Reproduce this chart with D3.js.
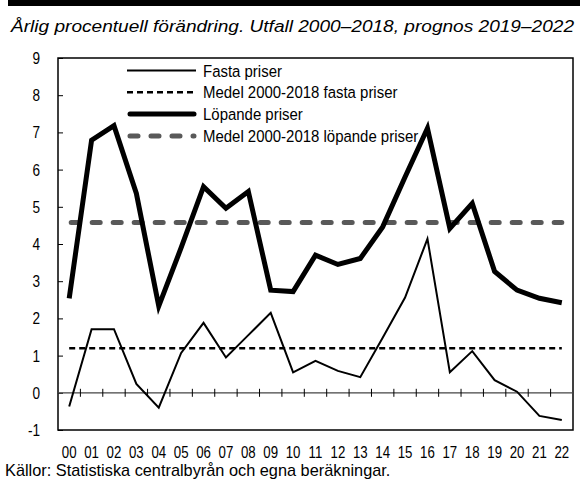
<!DOCTYPE html>
<html>
<head>
<meta charset="utf-8">
<script src="https://cdn.jsdelivr.net/npm/d3@7"></script>
<style>
  body { margin: 0; background: #fff; }
  svg { display: block; }
  text { font-family: "Liberation Sans", Arial, sans-serif; font-size: 17px; fill: #000; }
  .subtitle { font-size: 16px; font-style: italic; }
</style>
</head>
<body>
<script>
const years = ["00", "01", "02", "03", "04", "05", "06", "07", "08", "09", "10", "11",
  "12", "13", "14", "15", "16", "17", "18", "19", "20", "21", "22"];

const fastaPriser = [-0.37, 1.71, 1.71, 0.24, -0.40, 1.07, 1.88, 0.95, 1.55, 2.15, 0.55, 0.86,
  0.59, 0.42, 1.48, 2.56, 4.14, 0.55, 1.12, 0.34, 0.03, -0.62, -0.73];

const lopandePriser = [2.54, 6.79, 7.18, 5.36, 2.33, 3.90, 5.54, 4.96, 5.41, 2.76, 2.72, 3.70,
  3.45, 3.61, 4.46, 5.80, 7.11, 4.42, 5.09, 3.26, 2.76, 2.54, 2.42];

const medelFasta = 1.20;
const medelLopande = 4.58;

const yTicks = [-1, 0, 1, 2, 3, 4, 5, 6, 7, 8, 9];

const legendLabels = ["Fasta priser", "Medel 2000-2018 fasta priser", "Löpande priser", "Medel 2000-2018 löpande priser"];

const width = 582, height = 488;
const margin = { top: 58, right: 9, bottom: 58, left: 58 };

// the reference uses a condensed face, so squeeze Liberation Sans horizontally
const narrow = (sel, xf, yf, k) => sel
  .attr("transform", (d, i) => `translate(${xf(d, i)},${yf(d, i)}) scale(${k},1)`);

const svg = d3.select("body").append("svg")
  .attr("width", width)
  .attr("height", height);

// cut-off title bar at the top
svg.append("rect")
  .attr("x", 8).attr("y", 0)
  .attr("width", 572).attr("height", 6)
  .attr("fill", "#000");

svg.append("text")
  .attr("class", "subtitle")
  .attr("x", 11)
  .attr("y", 32)
  .attr("textLength", 563)
  .attr("lengthAdjust", "spacingAndGlyphs")
  .text("Årlig procentuell förändring. Utfall 2000–2018, prognos 2019–2022");

const x = d3.scaleBand()
  .domain(years)
  .range([margin.left, width - margin.right]);

const y = d3.scaleLinear()
  .domain([-1, 9])
  .range([height - margin.bottom, margin.top]);

const xc = (d, i) => x(years[i]) + x.bandwidth() / 2;

// frame
svg.append("rect")
  .attr("x", margin.left).attr("y", margin.top)
  .attr("width", width - margin.right - margin.left)
  .attr("height", height - margin.bottom - margin.top)
  .attr("fill", "none")
  .attr("stroke", "#000")
  .attr("stroke-width", 1.5);

// y axis ticks (inside)
const yAxisG = svg.append("g")
  .attr("transform", `translate(${margin.left},0)`)
  .call(d3.axisLeft(y).tickValues(yTicks).tickSize(-5).tickFormat(""));
yAxisG.select(".domain").remove();
yAxisG.selectAll("line").attr("stroke", "#000");

svg.selectAll(".yLabel")
  .data(yTicks)
  .enter()
  .append("text")
  .attr("class", "yLabel")
  .attr("text-anchor", "end")
  .call(narrow, () => 40, d => y(d) + 6, 0.8)
  .text(d => d);

// zero line with category separators
svg.append("line")
  .attr("x1", margin.left).attr("x2", width - margin.right)
  .attr("y1", y(0)).attr("y2", y(0))
  .attr("stroke", "#444")
  .attr("stroke-width", 1.2);

svg.selectAll(".sep")
  .data(years.slice(1))
  .enter()
  .append("line")
  .attr("class", "sep")
  .attr("x1", d => x(d)).attr("x2", d => x(d))
  .attr("y1", y(0) - 4).attr("y2", y(0) + 4)
  .attr("stroke", "#000")
  .attr("stroke-width", 1);

// x labels
svg.selectAll(".xLabel")
  .data(years)
  .enter()
  .append("text")
  .attr("class", "xLabel")
  .attr("text-anchor", "middle")
  .call(narrow, d => x(d) + x.bandwidth() / 2, () => 458, 0.78)
  .text(d => d);

const line = d3.line()
  .x(xc)
  .y(d => y(d));

const x0 = xc(null, 0), x1 = xc(null, years.length - 1);

// mean lines
svg.append("line")
  .attr("x1", x0).attr("x2", x1)
  .attr("y1", y(medelFasta)).attr("y2", y(medelFasta))
  .attr("stroke", "#000")
  .attr("stroke-width", 2.5)
  .attr("stroke-dasharray", "6,4");

svg.append("line")
  .attr("x1", x0 + 2).attr("x2", x1)
  .attr("y1", y(medelLopande)).attr("y2", y(medelLopande))
  .attr("stroke", "#595959")
  .attr("stroke-width", 5)
  .attr("stroke-linecap", "round")
  .attr("stroke-dasharray", "8,13");

// series
svg.append("path")
  .datum(fastaPriser)
  .attr("d", line)
  .attr("fill", "none")
  .attr("stroke", "#000")
  .attr("stroke-width", 2);

svg.append("path")
  .datum(lopandePriser)
  .attr("d", line)
  .attr("fill", "none")
  .attr("stroke", "#000")
  .attr("stroke-width", 5);

// legend
const legendStyles = [
  { stroke: "#000", w: 2, dash: null, cap: "butt" },
  { stroke: "#000", w: 2.5, dash: "6,4", cap: "butt" },
  { stroke: "#000", w: 5, dash: null, cap: "round" },
  { stroke: "#595959", w: 5, dash: "8,13", cap: "round" }
];

const legend = svg.selectAll(".legend")
  .data(legendLabels)
  .enter()
  .append("g")
  .attr("class", "legend")
  .attr("transform", (d, i) => `translate(127, ${70.5 + i * 21.8})`);

legend.append("line")
  .attr("x1", (d, i) => legendStyles[i].cap === "round" ? 3 : 0)
  .attr("x2", (d, i) => legendStyles[i].cap === "round" ? 67 : 69)
  .attr("stroke", (d, i) => legendStyles[i].stroke)
  .attr("stroke-width", (d, i) => legendStyles[i].w)
  .attr("stroke-linecap", (d, i) => legendStyles[i].cap)
  .attr("stroke-dasharray", (d, i) => legendStyles[i].dash);

legend.append("text")
  .call(narrow, () => 76, () => 6, 0.88)
  .text(d => d);

// source
svg.append("text")
  .call(narrow, () => 5, () => 476, 0.96)
  .text("Källor: Statistiska centralbyrån och egna beräkningar.");
</script>
</body>
</html>
